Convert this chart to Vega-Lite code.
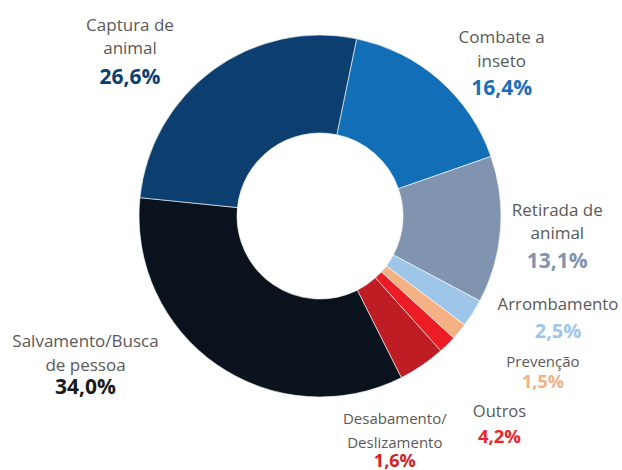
{
  "$schema": "https://vega.github.io/schema/vega-lite/v6.json",
  "width": 604,
  "height": 432,
  "padding": {"left": 18, "top": 0, "right": 0, "bottom": 38},
  "autosize": {"type": "none"},
  "background": "white",
  "config": {"view": {"stroke": null}},
  "data": {
    "values": [
      {"ord": 1, "cat": "Combate a inseto", "label": "Combate a\ninseto", "v": 16.4, "pct": "16,4%"},
      {"ord": 2, "cat": "Retirada de animal", "label": "Retirada de\nanimal", "v": 13.1, "pct": "13,1%"},
      {"ord": 3, "cat": "Arrombamento", "label": "Arrombamento", "v": 2.5, "pct": "2,5%"},
      {"ord": 4, "cat": "Prevenção", "label": "Prevenção", "v": 1.5, "pct": "1,5%"},
      {"ord": 5, "cat": "Desabamento/Deslizamento", "label": "Desabamento/\nDeslizamento", "v": 1.6, "pct": "1,6%"},
      {"ord": 6, "cat": "Outros", "label": "Outros", "v": 4.2, "pct": "4,2%"},
      {"ord": 7, "cat": "Salvamento/Busca de pessoa", "label": "Salvamento/Busca\nde pessoa", "v": 34.0, "pct": "34,0%"},
      {"ord": 8, "cat": "Captura de animal", "label": "Captura de\nanimal", "v": 26.6, "pct": "26,6%"}
    ]
  },
  "encoding": {
    "theta": {"field": "v", "type": "quantitative", "stack": true, "scale": {"range": [0.204, 6.487]}},
    "order": {"field": "ord", "type": "quantitative"}
  },
  "layer": [
    {
      "mark": {"type": "arc", "outerRadius": 181, "innerRadius": 83, "stroke": "#ffffff", "strokeWidth": 0.6},
      "encoding": {
        "color": {
          "field": "cat", "type": "nominal", "legend": null,
          "scale": {
            "domain": ["Combate a inseto", "Retirada de animal", "Arrombamento", "Prevenção", "Desabamento/Deslizamento", "Outros", "Salvamento/Busca de pessoa", "Captura de animal"],
            "range": ["#136EB8", "#8094B0", "#9EC6E8", "#F4B183", "#EC1C24", "#BE1E23", "#0A121E", "#0C3F70"]
          }
        }
      }
    },
    {
      "mark": {
        "type": "text", "radius": 230, "font": "Open Sans", "lineHeight": 23.5, "lineBreak": "\n",
        "fill": "#595959", "align": "center", "baseline": "middle",
        "fontSize": {"expr": "[17,17,16.8,15,15,16.5,17,17][datum.ord-1]"},
        "dx": {"expr": "[30,8,44,46,-87,50,-104,-54][datum.ord-1]"},
        "dy": {"expr": "[-5,-23,-35,-1,40,6,-63,-5][datum.ord-1]"}
      },
      "encoding": {"text": {"field": "label"}}
    },
    {
      "mark": {
        "type": "text", "radius": 230, "font": "Open Sans", "fontWeight": "bold",
        "align": "center", "baseline": "middle",
        "fontSize": {"expr": "[21,21,20,18,18,18.5,21,21][datum.ord-1]"},
        "dx": {"expr": "[30,8,44,46,-87,50,-104,-54][datum.ord-1]"},
        "dy": {"expr": "[46,28,-8,20,83,31,-17,47][datum.ord-1]"}
      },
      "encoding": {
        "text": {"field": "pct"},
        "color": {
          "field": "cat", "type": "nominal", "legend": null,
          "scale": {
            "domain": ["Combate a inseto", "Retirada de animal", "Arrombamento", "Prevenção", "Desabamento/Deslizamento", "Outros", "Salvamento/Busca de pessoa", "Captura de animal"],
            "range": ["#1A6FBA", "#8094B0", "#9EC6E8", "#F4B183", "#D21F26", "#E8262B", "#1A1A1A", "#0C3F70"]
          }
        }
      }
    }
  ],
  "resolve": {"scale": {"color": "independent"}}
}
